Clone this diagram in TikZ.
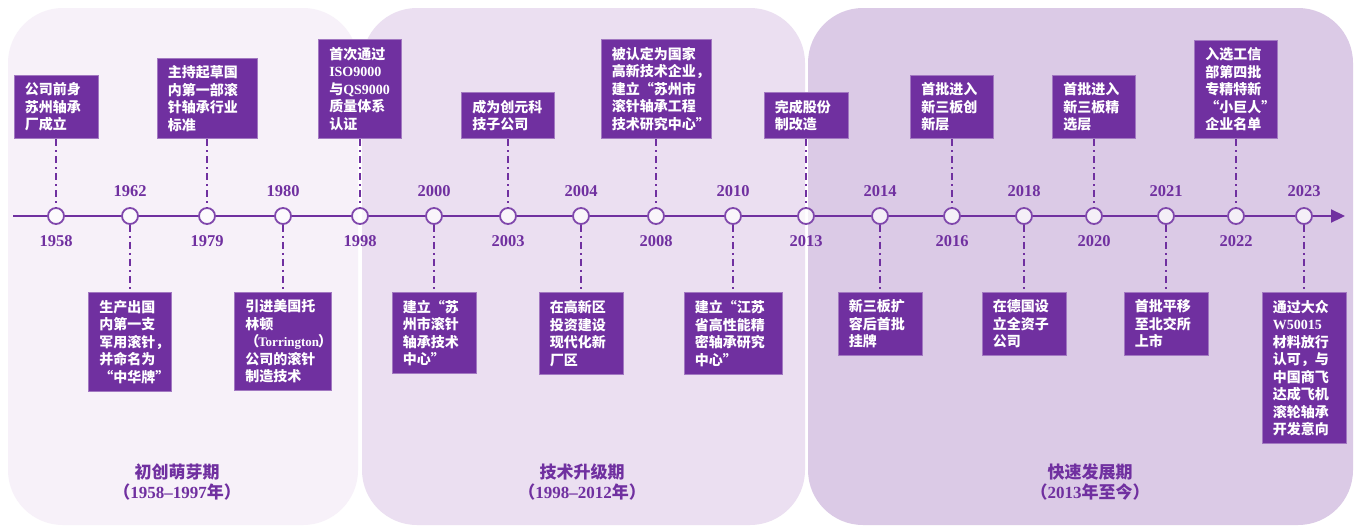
\documentclass[tikz,border=0pt]{standalone}
\usepackage{fontspec}
\setmainfont{Liberation Serif}
\newfontfamily\cjk{Noto Sans CJK SC}
\usetikzlibrary{arrows.meta}
\definecolor{pur}{HTML}{7030A0}
\definecolor{purc}{HTML}{8048AC}
\definecolor{pone}{HTML}{F7F1F9}
\definecolor{ptwo}{HTML}{EBDFF1}
\definecolor{pthree}{HTML}{DBCAE6}
\newcommand\lat[1]{{\rmfamily\bfseries #1}}
\tikzset{
  panel/.style={rounded corners=55pt},
  evbox/.style={draw=pur!65!white, line width=0.9pt, fill=pur, inner sep=0pt},
  evtxt/.style={text=white, font=\cjk\bfseries\fontsize{14}{17.5}\selectfont, align=left, inner sep=0pt},
  circ/.style={circle, draw=purc, line width=1.8pt, fill=white, fill opacity=0.7, minimum size=16pt, inner sep=0pt},
  yr/.style={text=pur, font=\rmfamily\bfseries\fontsize{16.5}{16.5}\selectfont, inner sep=0pt},
  period/.style={text=pur, font=\cjk\bfseries\fontsize{17}{19.5}\selectfont, align=center, inner sep=0pt},
  conn/.style={draw=pur, line width=2pt, dash pattern=on 7pt off 4pt on 2pt off 4pt},
  axisline/.style={draw=pur, line width=2.2pt}
}
\newcommand\evup[5]{%
  \node[circ] (c#1) at (#2,216) {};
  \node[yr] (y#1) at (#2,241) {#1};
  \node[evbox, minimum width=#3pt, minimum height=#4pt, anchor=south] (b#1) at (#2,139) {};
  \node[evtxt, anchor=west] (t#1) at ([xshift=11pt]b#1.west) {#5};
  \draw[conn] (b#1) -- (c#1);}
\newcommand\evdown[5]{%
  \node[circ] (c#1) at (#2,216) {};
  \node[yr] (y#1) at (#2,191) {#1};
  \node[evbox, minimum width=#3pt, minimum height=#4pt, anchor=north] (b#1) at (#2,292) {};
  \node[evtxt, anchor=west] (t#1) at ([xshift=11pt]b#1.west) {#5};
  \draw[conn] (c#1) -- (b#1);}
\begin{document}
\begin{tikzpicture}[x=1pt,y=-1pt]
\useasboundingbox (0,0) rectangle (1362,528);
\fill[white] (0,0) rectangle (1362,528);
% panels
\fill[pone, panel] (8,8) rectangle (358,525);
\fill[ptwo, panel] (362,8) rectangle (805,525);
\fill[pthree, panel] (808,8) rectangle (1353,525);
% events
\evup{1958}{56}{84}{63}{公司前身\\苏州轴承\\厂成立}
\evdown{1962}{130}{83}{99}{生产出国\\内第一支\\军用滚针，\\并命名为\\“中华牌”}
\evup{1979}{207}{100}{80}{主持起草国\\内第一部滚\\针轴承行业\\标准}
\evdown{1980}{283}{97}{98}{引进美国托\\林顿\\（\kern-1pt\lat{\fontsize{13}{17.5}\selectfont Torrington}\kern-1pt）\\公司的滚针\\制造技术}
\evup{1998}{360}{83}{99}{首次通过\\\lat{ISO9000}\\与\lat{QS9000}\\质量体系\\认证}
\evdown{2000}{434}{84}{81}{建立“苏\\州市滚针\\轴承技术\\中心”}
\evup{2003}{508}{93}{46}{成为创元科\\技子公司}
\evdown{2004}{581}{84}{82}{在高新区\\投资建设\\现代化新\\厂区}
\evup{2008}{656}{110}{99}{被认定为国家\\高新技术企业，\\建立“苏州市\\滚针轴承工程\\技术研究中心”}
\evdown{2010}{733}{98}{82}{建立“江苏\\省高性能精\\密轴承研究\\中心”}
\evup{2013}{806}{84}{46}{完成股份\\制改造}
\evdown{2014}{880}{84}{63}{新三板扩\\容后首批\\挂牌}
\evup{2016}{952}{83}{63}{首批进入\\新三板创\\新层}
\evdown{2018}{1024}{84}{63}{在德国设\\立全资子\\公司}
\evup{2020}{1094}{83}{63}{首批进入\\新三板精\\选层}
\evdown{2021}{1166}{84}{63}{首批平移\\至北交所\\上市}
\evup{2022}{1236}{83}{98}{入选工信\\部第四批\\专精特新\\“小巨人”\\企业名单}
\evdown{2023}{1304}{84}{151}{通过大众\\\lat{W50015}\\材料放行\\认可，与\\中国商飞\\达成飞机\\滚轮轴承\\开发意向}
% axis
\coordinate (astart) at (13,216);
\coordinate (aend) at (1345,216);
\draw[axisline] (astart) -- (c1958);
\draw[axisline] (c1958) -- (c1962);
\draw[axisline] (c1962) -- (c1979);
\draw[axisline] (c1979) -- (c1980);
\draw[axisline] (c1980) -- (c1998);
\draw[axisline] (c1998) -- (c2000);
\draw[axisline] (c2000) -- (c2003);
\draw[axisline] (c2003) -- (c2004);
\draw[axisline] (c2004) -- (c2008);
\draw[axisline] (c2008) -- (c2010);
\draw[axisline] (c2010) -- (c2013);
\draw[axisline] (c2013) -- (c2014);
\draw[axisline] (c2014) -- (c2016);
\draw[axisline] (c2016) -- (c2018);
\draw[axisline] (c2018) -- (c2020);
\draw[axisline] (c2020) -- (c2021);
\draw[axisline] (c2021) -- (c2022);
\draw[axisline] (c2022) -- (c2023);
\draw[axisline, -{Triangle[length=14pt, width=13pt]}] (c2023) -- (aend);
% period labels
\node[period] (p1) at (177,482) {初创萌芽期\\（\lat{1958–1997}年）};
\node[period] (p2) at (582,482) {技术升级期\\（\lat{1998–2012}年）};
\node[period] (p3) at (1090,482) {快速发展期\\（\lat{2013}年至今）};
\end{tikzpicture}
\end{document}
